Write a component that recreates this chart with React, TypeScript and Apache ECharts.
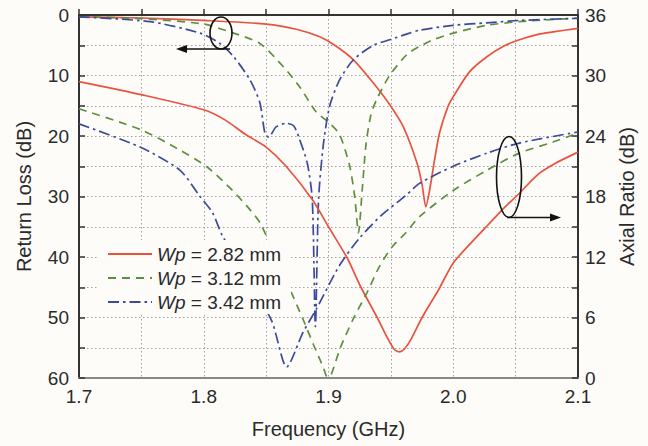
import React, { useEffect, useRef } from 'react';
import * as echarts from 'echarts';

// Legend names (Wp variants)
const legendNames = ['Wp = 2.82 mm', 'Wp = 3.12 mm', 'Wp = 3.42 mm'];

// Return loss (left axis, dB) — Wp = 2.82 mm
const rlRedFreq = [1.7, 1.75, 1.8, 1.85, 1.875, 1.893, 1.905, 1.92, 1.935, 1.949, 1.96, 1.971, 1.975, 1.978, 1.981, 1.985, 1.989, 1.996, 2.0, 2.013, 2.027, 2.041, 2.053, 2.068, 2.08, 2.1];
const rlRedVal = [0.3, 0.5, 0.9, 1.5, 2.4, 3.6, 5.0, 7.4, 11.0, 14.8, 18.5, 24.5, 28.0, 31.7, 29.0, 24.0, 19.5, 15.0, 13.5, 9.4, 6.9, 5.1, 4.1, 3.2, 2.8, 2.2];

// Return loss — Wp = 3.12 mm
const rlGreenFreq = [1.7, 1.75, 1.8, 1.821, 1.845, 1.864, 1.877, 1.89, 1.901, 1.909, 1.917, 1.921, 1.924, 1.927, 1.93, 1.934, 1.939, 1.949, 1.963, 1.973, 1.985, 2.0, 2.027, 2.053, 2.1];
const rlGreenVal = [0.3, 0.6, 1.5, 2.8, 4.7, 8.6, 11.9, 16.0, 17.9, 19.8, 25.0, 30.0, 36.0, 29.0, 21.5, 16.5, 13.8, 10.0, 6.5, 5.2, 4.0, 3.0, 1.7, 1.1, 0.5];

// Return loss — Wp = 3.42 mm
const rlBlueFreq = [1.7, 1.757, 1.797, 1.813, 1.824, 1.837, 1.845, 1.849, 1.852, 1.858, 1.866, 1.872, 1.876, 1.883, 1.887, 1.8895, 1.892, 1.896, 1.901, 1.909, 1.92, 1.936, 1.949, 1.965, 1.973, 2.0, 2.027, 2.053, 2.1];
const rlBlueVal = [0.3, 1.1, 3.0, 4.7, 6.9, 10.7, 14.5, 19.5, 20.2, 18.5, 17.9, 18.3, 20.1, 24.5, 30.5, 51.5, 30.6, 21.2, 15.0, 10.7, 7.4, 5.0, 4.1, 3.0, 2.5, 1.7, 1.3, 0.9, 0.55];

// Axial ratio (right axis, dB) — Wp = 2.82 mm
const arRedFreq = [1.7, 1.75, 1.8, 1.817, 1.833, 1.85, 1.866, 1.887, 1.9, 1.915, 1.926, 1.939, 1.948, 1.953, 1.957, 1.961, 1.966, 1.975, 1.988, 2.0, 2.015, 2.028, 2.041, 2.052, 2.068, 2.082, 2.1];
const arRedVal = [29.4, 28.1, 26.6, 25.6, 24.2, 22.9, 21.0, 17.7, 15.0, 11.9, 9.0, 6.0, 3.8, 2.8, 2.6, 2.9, 3.8, 6.0, 8.7, 11.4, 13.5, 15.2, 16.9, 18.2, 20.2, 21.3, 22.4];

// Axial ratio — Wp = 3.12 mm
const arGreenFreq = [1.7, 1.75, 1.781, 1.803, 1.823, 1.837, 1.846, 1.88, 1.888, 1.896, 1.899, 1.902, 1.9095, 1.92, 1.931, 1.941, 1.951, 1.962, 1.973, 2.0, 2.027, 2.053, 2.08, 2.1];
const arGreenVal = [26.7, 24.6, 22.6, 20.9, 18.6, 16.7, 15.2, 5.7, 3.3, 1.0, 0.1, 0.3, 3.0, 5.9, 8.5, 11.1, 13.0, 14.4, 16.0, 18.6, 20.6, 22.3, 23.4, 24.3];

// Axial ratio — Wp = 3.42 mm
const arBlueFreq = [1.7, 1.749, 1.781, 1.797, 1.807, 1.815, 1.854, 1.8665, 1.8795, 1.8905, 1.909, 1.925, 1.943, 1.962, 1.973, 2.0, 2.027, 2.053, 2.1];
const arBlueVal = [25.2, 22.9, 20.6, 18.0, 16.4, 14.1, 5.8, 1.1, 4.5, 6.9, 11.2, 13.9, 16.2, 18.1, 19.3, 21.0, 22.3, 23.3, 24.4];

const RED = '#e8533f';
const GREEN = '#5e8f3e';
const BLUE = '#3c4a9c';
const FONT = 'Liberation Sans, Arial, sans-serif';
const BG = '#fdfcf9';
const TXT = '#2a2a2a';

const zip = (f: number[], v: number[]) => f.map((x, i) => [x, v[i]]);

export default function App() {
  const ref = useRef<HTMLDivElement>(null);
  useEffect(() => {
    if (!ref.current) return;
    const chart = echarts.init(ref.current, undefined, { renderer: 'svg' });
    const gridLine = { show: true, lineStyle: { color: '#a0a0a0', width: 1, type: [1.5, 2.5] as any } };
    const mkSeries = (name: string, f: number[], v: number[], color: string, type: any, yIdx: number) => ({
      name,
      type: 'line',
      data: zip(f, v),
      yAxisIndex: yIdx,
      symbol: 'none',
      smooth: 0.25,
      lineStyle: { color, width: 1.7, type },
      itemStyle: { color },
    });
    const greenDash = [8, 6];
    const blueDash = [11, 4, 2.5, 4];
    const option: any = {
      animation: false,
      backgroundColor: BG,
      textStyle: { fontFamily: FONT },
      grid: { left: 79, right: 70, top: 15, bottom: 68, show: false },
      xAxis: [
        {
          type: 'value', min: 1.7, max: 2.1, interval: 0.1,
          axisLine: { show: true, lineStyle: { color: '#333', width: 2 } },
          axisTick: { show: true, inside: true, length: 6, lineStyle: { color: '#333', width: 1.5 } },
          minorTick: { show: true, splitNumber: 2, length: 6, lineStyle: { color: '#333', width: 1.5 } },
          splitLine: gridLine,
          minorSplitLine: gridLine,
          axisLabel: { formatter: (v: number) => v.toFixed(1), fontSize: 19, color: TXT, margin: 9, fontFamily: FONT },
          name: 'Frequency (GHz)', nameLocation: 'middle', nameGap: 41,
          nameTextStyle: { fontSize: 20, color: TXT, fontFamily: FONT },
        },
        {
          type: 'value', min: 1.7, max: 2.1, interval: 0.1, position: 'top',
          axisLine: { show: true, lineStyle: { color: '#888', width: 2 } },
          axisTick: { show: false }, axisLabel: { show: false }, splitLine: { show: false },
        },
      ],
      yAxis: [
        {
          type: 'value', min: 0, max: 60, interval: 10, inverse: true, position: 'left',
          axisLine: { show: true, lineStyle: { color: '#333', width: 2 } },
          axisTick: { show: true, inside: true, length: 6, lineStyle: { color: '#333', width: 1.5 } },
          minorTick: { show: true, splitNumber: 2, length: 6, lineStyle: { color: '#333', width: 1.5 } },
          splitLine: gridLine,
          minorSplitLine: gridLine,
          axisLabel: { fontSize: 19, color: TXT, margin: 10, fontFamily: FONT },
          name: 'Return Loss (dB)', nameLocation: 'middle', nameGap: 45, nameRotate: 90,
          nameTextStyle: { fontSize: 20, color: TXT, fontFamily: FONT },
        },
        {
          type: 'value', min: 0, max: 36, interval: 6, position: 'right',
          axisLine: { show: true, lineStyle: { color: '#333', width: 2 } },
          axisTick: { show: true, inside: true, length: 6, lineStyle: { color: '#333', width: 1.5 } },
          minorTick: { show: true, splitNumber: 2, length: 6, lineStyle: { color: '#333', width: 1.5 } },
          splitLine: { show: false },
          axisLabel: { fontSize: 19, color: TXT, margin: 7, fontFamily: FONT },
          name: 'Axial Ratio (dB)', nameLocation: 'middle', nameGap: 36, nameRotate: 90,
          nameTextStyle: { fontSize: 20, color: TXT, fontFamily: FONT },
        },
      ],
      legend: {
        data: legendNames,
        orient: 'vertical',
        left: 97, top: 240,
        itemWidth: 44, itemHeight: 14, itemGap: 4,
        padding: [4, 10, 2, 10],
        backgroundColor: BG,
        itemStyle: { opacity: 0 },
        formatter: (name: string) => '{i|Wp}' + name.slice(2),
        textStyle: {
          fontSize: 19, color: TXT, fontFamily: FONT, lineHeight: 20,
          rich: { i: { fontStyle: 'italic', fontSize: 19, color: TXT, fontFamily: FONT, lineHeight: 20 } },
        },
      },
      series: [
        mkSeries(legendNames[0], rlRedFreq, rlRedVal, RED, 'solid', 0),
        mkSeries(legendNames[1], rlGreenFreq, rlGreenVal, GREEN, greenDash, 0),
        mkSeries(legendNames[2], rlBlueFreq, rlBlueVal, BLUE, blueDash, 0),
        mkSeries(legendNames[0], arRedFreq, arRedVal, RED, 'solid', 1),
        mkSeries(legendNames[1], arGreenFreq, arGreenVal, GREEN, greenDash, 1),
        mkSeries(legendNames[2], arBlueFreq, arBlueVal, BLUE, blueDash, 1),
      ],
      graphic: [
        { type: 'ellipse', z: 10, shape: { cx: 221, cy: 33, rx: 11, ry: 16 }, style: { fill: 'none', stroke: '#111', lineWidth: 1.6 } },
        { type: 'line', z: 10, shape: { x1: 230, y1: 49, x2: 184, y2: 49 }, style: { stroke: '#111', lineWidth: 1.6 } },
        { type: 'polygon', z: 10, shape: { points: [[176, 49], [187, 45], [187, 53]] }, style: { fill: '#111' } },
        { type: 'ellipse', z: 10, shape: { cx: 509, cy: 177, rx: 12.5, ry: 40.5 }, style: { fill: 'none', stroke: '#111', lineWidth: 1.6 } },
        { type: 'line', z: 10, shape: { x1: 507, y1: 217.5, x2: 552, y2: 217.5 }, style: { stroke: '#111', lineWidth: 1.6 } },
        { type: 'polygon', z: 10, shape: { points: [[561, 217.5], [550, 213.5], [550, 221.5]] }, style: { fill: '#111' } },
      ],
    };
    chart.setOption(option);
    return () => chart.dispose();
  }, []);
  return (
    <div style={{ position: 'fixed', left: 0, top: 0, width: 648, height: 446, background: BG }}>
      <div ref={ref} style={{ width: 648, height: 446 }} />
    </div>
  );
}
